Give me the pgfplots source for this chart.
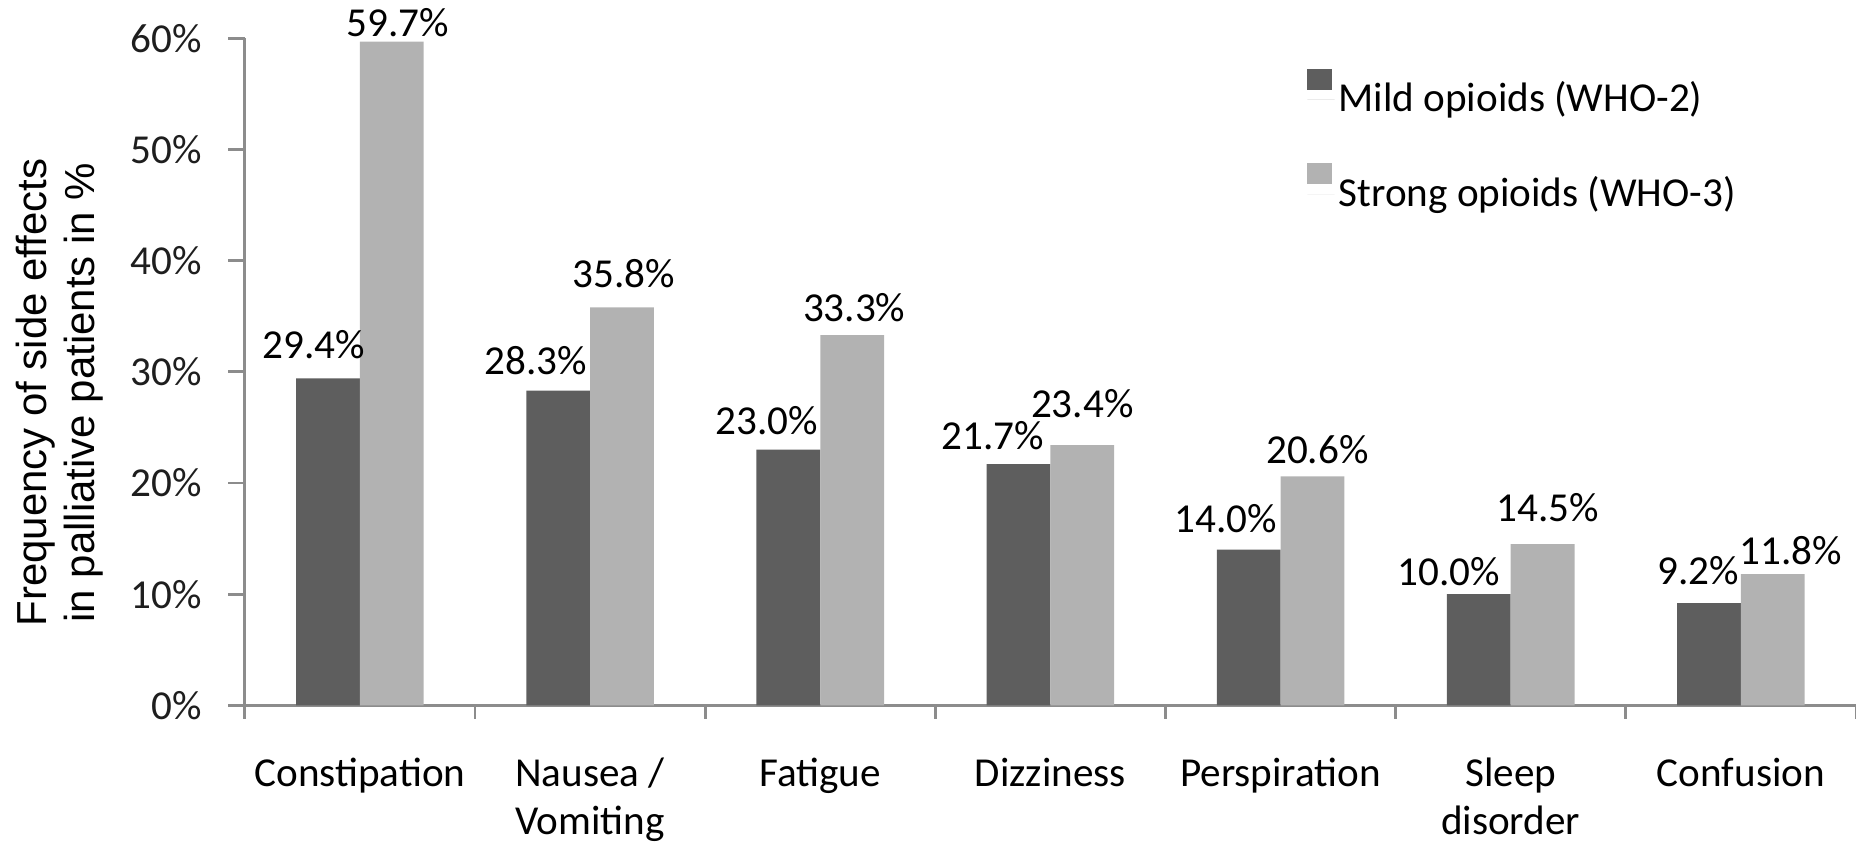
\documentclass[border=0pt]{standalone}
\usepackage{pgfplots}
\usepackage{pgfplotstable}
\pgfplotsset{compat=1.18}
\usepackage{fontspec}
\setmainfont{Carlito}
\newfontfamily\arialf{Liberation Sans}
\definecolor{darkbar}{RGB}{94,94,94}
\definecolor{lightbar}{RGB}{178,178,178}
\definecolor{axisgray}{RGB}{140,140,140}
\definecolor{txt}{RGB}{30,30,30}
\newcommand\xs{\rule{0pt}{8pt}}

\pgfplotstableread{
x y dx dy
0 29.4 -3.4 4.9
1 28.3 -5.5 3.9
2 23.0 -5.3 3.6
3 21.7 -6.3 3.6
4 14.0 -5.5 4.1
5 10.0 -7.3 2.0
6 9.2 -2.7 4.4
}\mild
\pgfplotstableread{
x y dx dy
0 59.7 1.5 1.2
1 35.8 0.5 4.8
2 33.3 0.5 3.4
3 23.4 0.0 6.8
4 20.6 1.2 3.0
5 14.5 1.2 5.6
6 11.8 4.4 2.4
}\strong

\begin{document}
\begin{tikzpicture}
\begin{axis}[
  at={(0,0)}, anchor=south west,
  scale only axis, width=391.5pt, height=162.1pt,
  ybar=0pt, bar width=15.5pt,
  xmin=-0.5, xmax=6.5, ymin=0, ymax=60,
  /pgf/number format/assume math mode=true,
  font=\fontsize{10}{12}\selectfont\color{txt},
  xtick={0,...,6},
  xticklabels={\xs Constipation, \xs Nausea /\\Vomiting, \xs Fatigue, \xs Dizziness, \xs Perspiration, \xs Sleep\\disorder, \xs Confusion},
  xticklabel style={align=center, font=\fontsize{10}{11.7}\selectfont, anchor=north, inner sep=0pt, yshift=-7.4pt},
  major x tick style={draw=none},
  minor xtick={-0.5,0.5,...,6.5},
  ytick={0,10,...,60},
  yticklabel={\pgfmathprintnumber{\tick}\%},
  yticklabel style={xshift=-3pt},
  axis x line*=bottom, axis y line*=left,
  axis line style={axisgray, line width=0.7pt},
  tick style={axisgray, line width=0.7pt},
  tick align=outside,
  major tick length=4pt, minor tick length=3.2pt,
  ylabel={Frequency of side effects\\in palliative patients in \%},
  ylabel style={font=\arialf\fontsize{10.2}{11.5}\selectfont, align=center, at={(axis description cs:-0.115,0.469)}, anchor=center},
  legend style={draw=none, fill=none, at={(axis cs:4.113,57.3)}, anchor=north west, inner sep=0pt, row sep=10pt, font=\fontsize{10}{12}\selectfont, nodes={inner sep=1pt}},
  legend cell align=left,
  legend image code/.code={\fill[#1] (0pt,2.4pt) rectangle (6pt,7.5pt); \path (0pt,0pt) -- (6.6pt,0pt);},
  nodes near coords={\pgfmathprintnumber[fixed, fixed zerofill, precision=1]{\pgfplotspointmeta}\%},
  nodes near coords style={anchor=base, inner sep=0pt, font=\fontsize{10}{12}\selectfont},
  point meta=explicit,
]
\addplot[fill=darkbar, draw=none,
  visualization depends on={\thisrow{dx} \as \dx},
  visualization depends on={\thisrow{dy} \as \dy},
  every node near coord/.append style={xshift=\dx*1pt, yshift=\dy*1pt}]
  table[x=x, y=y, meta=y] {\mild};
\addplot[fill=lightbar, draw=none,
  visualization depends on={\thisrow{dx} \as \dx},
  visualization depends on={\thisrow{dy} \as \dy},
  every node near coord/.append style={xshift=\dx*1pt, yshift=\dy*1pt}]
  table[x=x, y=y, meta=y] {\strong};
\legend{Mild opioids (WHO-2), Strong opioids (WHO-3)}
\end{axis}
\pgfresetboundingbox
\useasboundingbox (-59.5pt,-33.8pt) rectangle (391.5pt,171.4pt);
\end{tikzpicture}
\end{document}
